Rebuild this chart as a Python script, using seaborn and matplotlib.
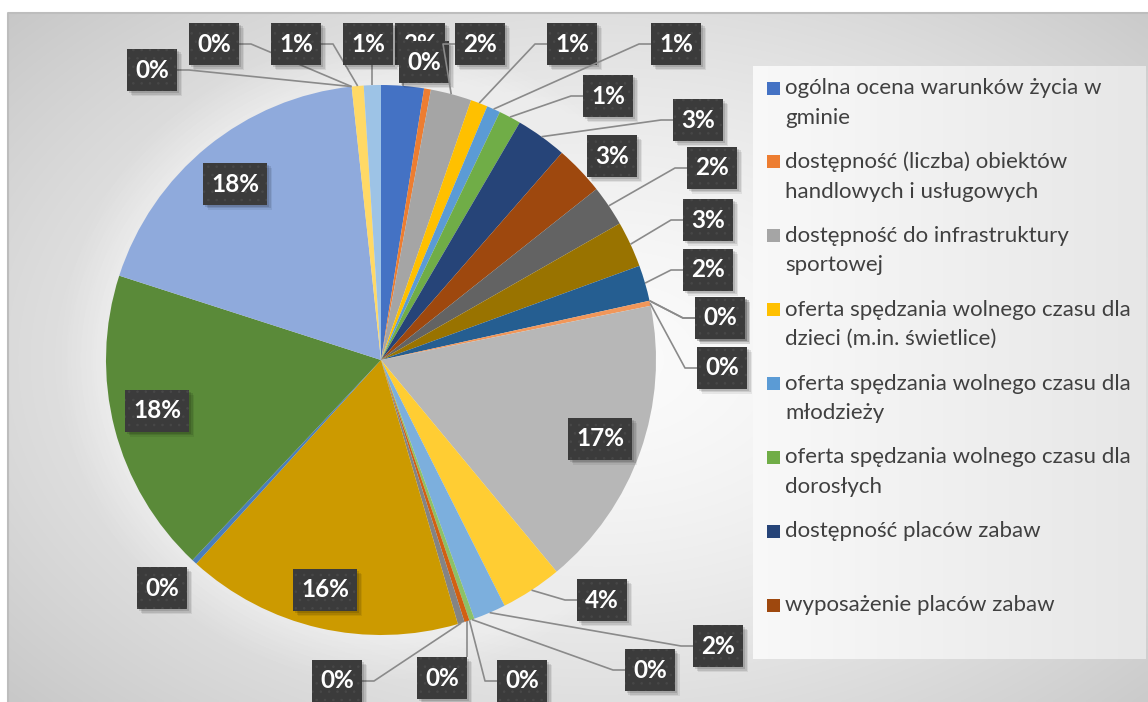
import numpy as np
import matplotlib
matplotlib.use("Agg")
import matplotlib.pyplot as plt
from matplotlib.patches import Rectangle, Circle
import seaborn as sns

# --- DATA (percent shares, clockwise from 12 o'clock) ---
values = [2.5, 0.4, 2.4, 1.0, 0.8, 1.3, 3.0, 2.9, 2.4, 2.7, 2.1, 0.0, 0.0, 0.3,
          17.1, 3.6, 1.9, 0.3, 0.0, 0.3, 0.4, 16.2, 0.3, 17.9, 18.3, 0.0, 0.0,
          0.7, 1.0]

slice_colors = ['#4472C4', '#ED7D31', '#A5A5A5', '#FFC000', '#5B9BD5', '#70AD47',
                '#264478', '#9E480E', '#636363', '#997300', '#255E91', '#43682B',
                '#698ED0', '#F1975A', '#B7B7B7', '#FFCD33', '#7CAFDD', '#8CC168',
                '#335AA1', '#D26012', '#848484', '#CC9A00', '#4A7EBB', '#5A8A39',
                '#8FAADC', '#F4B183', '#C9C9C9', '#FFD966', '#9DC3E6']

# only the first 8 entries are visible in the (truncated) legend
legend_labels = [
    "ogólna ocena warunków życia w\ngminie",
    "dostępność (liczba) obiektów\nhandlowych i usługowych",
    "dostępność do infrastruktury\nsportowej",
    "oferta spędzania wolnego czasu dla\ndzieci (m.in. świetlice)",
    "oferta spędzania wolnego czasu dla\nmłodzieży",
    "oferta spędzania wolnego czasu dla\ndorosłych",
    "dostępność placów zabaw",
    "wyposażenie placów zabaw",
]

# --- LAYOUT (pixels of the 1148x702 canvas) ---
W, H = 1148, 702
CX, CY, R = 381, 360, 275          # pie centre / radius
label_pos = [(420, 44), (424, 62), (480, 44), (572, 44), (676, 44), (608, 96),
             (698, 120), (612, 156), (712, 168), (708, 220), (708, 270),
             (720, 318), (720, 318), (722, 368), (600, 439), (602, 600),
             (718, 646), (650, 670), (522, 681), (442, 678), (337, 681),
             (325, 590), (162, 588), (157, 411), (235, 184), (152, 70),
             (214, 44), (296, 44), (368, 44)]


def P(x, y):
    return ((x - CX) / R, (CY - y) / R)


def L(px):
    return px / R


sns.set_theme(style="white")
plt.rcParams['font.family'] = ['Lato', 'DejaVu Sans']
plt.rcParams['hatch.linewidth'] = 0.6

fig = plt.figure(figsize=(W / 100, H / 100), dpi=100)
fig.patch.set_facecolor('white')
ax = fig.add_axes([0, 0, 1, 1])

# background gradient of the chart area
xs = np.linspace(8, W, 460)
ys = np.linspace(13, H, 280)
gx, gy = np.meshgrid(xs, ys)
d = np.sqrt(((gx - 600) / 620) ** 2 + ((gy - 360) / 400) ** 2)
v = 0.985 - 0.21 * np.clip(d / 1.32, 0, 1) ** 1.5
x0, y1 = P(8, 13)
x1, y0 = P(W, H)
ax.imshow(np.dstack([v, v, v]), extent=[x0, x1, y0, y1], origin='upper',
          aspect='auto', interpolation='bilinear', zorder=0)
ax.plot([x0, x0, x1], [y0, y1, y1], color='#bdbdbd', lw=1.5, zorder=0.5)

# soft glow around the pie
for k in range(10):
    ax.add_patch(Circle((0, 0), 1 + 0.018 * k, color='white', alpha=0.05, lw=0, zorder=1))

# legend panel
lg = np.linspace(0.975, 0.905, 200)
lx0, ly1 = P(753, 66)
lx1, ly0 = P(1146, 659)
ax.imshow(np.dstack([lg, lg, lg]).repeat(2, axis=0), extent=[lx0, lx1, ly0, ly1],
          aspect='auto', interpolation='bilinear', zorder=1)

palette = sns.color_palette(slice_colors)
ax.pie(values, colors=palette, startangle=90, counterclock=False, radius=1,
       wedgeprops=dict(linewidth=0, zorder=3))

# data labels with leader lines
total = sum(values)
cum = 0.0
for i, val in enumerate(values):
    mid = cum + val / 2
    cum += val
    txt = f"{int(val + 0.5)}%"
    bx, by = P(*label_pos[i])
    w = L(50 if len(txt) == 2 else 64)
    h = L(42)
    left, right, bot, top = bx - w / 2, bx + w / 2, by - h / 2, by + h / 2
    theta = np.deg2rad(90 - 360 * mid / total)
    ex, ey = np.cos(theta), np.sin(theta)
    z = 5 + i * 0.1
    if np.hypot(bx, by) > 1:
        nx = min(max(ex, left), right)
        ny = min(max(ey, bot), top)
        if np.hypot(ex - nx, ey - ny) > L(12):
            if left <= ex <= right:
                yy = bot if ey < by else top
                pts = [(ex, ey), (ex, yy)]
            elif bx > ex:
                pts = [(ex, ey), (left - L(12), by), (left, by)]
            else:
                pts = [(ex, ey), (right + L(12), by), (right, by)]
            ax.plot(*zip(*pts), color='#8a8a8a', lw=1.2, zorder=z,
                    solid_capstyle='butt')
    for off, a in [(2, 0.12), (3.5, 0.1), (5, 0.07)]:
        ax.add_patch(Rectangle((left + L(off), bot - L(off)), w, h, fc='black',
                               alpha=a, lw=0, zorder=z + 0.01))
    ax.add_patch(Rectangle((left, bot), w, h, facecolor='#3b3b3b', edgecolor='#484848',
                           hatch='..', linewidth=0, zorder=z + 0.02))
    ax.text(bx, by, txt, ha='center', va='center', color='white', fontsize=17.5,
            fontweight='bold', zorder=z + 0.03)

# legend (Excel style, first line aligned with marker)
for i, lab in enumerate(legend_labels):
    yc = 88 + i * 73.9
    sx, sy = P(767, yc + 6.5)
    ax.add_patch(Rectangle((sx, sy), L(13), L(13), color=slice_colors[i], lw=0, zorder=2))
    tx, ty = P(785, yc - 10)
    ax.text(tx, ty, lab, ha='left', va='top', color='#404040', fontsize=16,
            linespacing=1.6, zorder=2)

ax.set_xlim(P(0, 0)[0], P(W, 0)[0])
ax.set_ylim(P(0, H)[1], P(0, 0)[1])
ax.axis('off')

fig.savefig("out.png", dpi=100)
